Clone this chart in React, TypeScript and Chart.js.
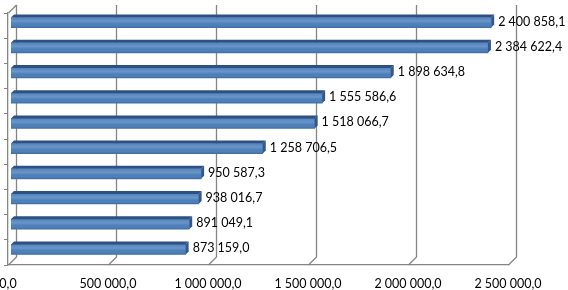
import React, { useEffect, useRef } from "react";
import { Chart, registerables } from "chart.js";

Chart.register(...registerables);

const categories = ["1", "2", "3", "4", "5", "6", "7", "8", "9", "10"];
const values = [
  2400858.1, 2384622.4, 1898634.8, 1555586.6, 1518066.7, 1258706.5, 950587.3,
  938016.7, 891049.1, 873159.0,
];
const xTicks = [0, 500000, 1000000, 1500000, 2000000, 2500000];

const FONT = "Lato, 'Open Sans', sans-serif";
const WALL = 8; // back wall offset
const SHIFT = 3; // bar offset into depth
const BD = 3; // bar depth
const GRID = "#858585";

function fmt(v: number): string {
  const [i, d] = v.toFixed(1).split(".");
  return i.replace(/\B(?=(\d{3})+(?!\d))/g, " ") + "," + d;
}

const threeD = {
  id: "threeD",
  beforeDatasetsDraw(chart: any) {
    const { ctx, chartArea, scales } = chart;
    const { left, top, bottom } = chartArea;
    const x = scales.x;
    ctx.save();
    ctx.strokeStyle = GRID;
    ctx.lineWidth = 1.3;
    ctx.beginPath();
    for (const t of xTicks) {
      const px = Math.round(x.getPixelForValue(t)) + 0.5;
      ctx.moveTo(px + WALL, top - WALL);
      ctx.lineTo(px + WALL, bottom - WALL);
      ctx.lineTo(px, bottom);
    }
    ctx.moveTo(left + 0.5, top);
    ctx.lineTo(left + 0.5 + WALL, top - WALL);
    ctx.stroke();
    ctx.restore();
    ctx.save();
    ctx.translate(SHIFT, -SHIFT);
  },
  afterDatasetsDraw(chart: any) {
    const { ctx } = chart;
    ctx.restore();
    const meta = chart.getDatasetMeta(0);
    ctx.save();
    meta.data.forEach((el: any, i: number) => {
      const p = el.getProps(["x", "y", "base", "height"], true);
      const x0 = p.base + SHIFT;
      const x1 = p.x + SHIFT;
      const y0 = p.y - p.height / 2 - SHIFT;
      const y1 = p.y + p.height / 2 - SHIFT;
      const g = ctx.createLinearGradient(0, y0, 0, y1);
      g.addColorStop(0, "rgba(255,255,255,0.05)");
      g.addColorStop(0.35, "rgba(255,255,255,0.18)");
      g.addColorStop(0.65, "rgba(255,255,255,0.0)");
      g.addColorStop(1, "rgba(0,0,0,0.18)");
      ctx.fillStyle = g;
      ctx.fillRect(x0, y0, x1 - x0, y1 - y0);
      ctx.fillStyle = "#2d5184";
      ctx.beginPath();
      ctx.moveTo(x0, y0);
      ctx.lineTo(x0 + BD, y0 - BD);
      ctx.lineTo(x1 + BD, y0 - BD);
      ctx.lineTo(x1, y0);
      ctx.closePath();
      ctx.fill();
      ctx.fillStyle = "#33578a";
      ctx.beginPath();
      ctx.moveTo(x1, y0);
      ctx.lineTo(x1 + BD, y0 - BD);
      ctx.lineTo(x1 + BD, y1 - BD);
      ctx.lineTo(x1, y1);
      ctx.closePath();
      ctx.fill();
      ctx.fillStyle = "#000";
      ctx.font = `12.5px ${FONT}`;
      ctx.textBaseline = "middle";
      ctx.textAlign = "left";
      ctx.fillText(fmt(values[i]), x1 + BD + 4, (y0 + y1) / 2 - 1);
    });
    ctx.restore();
  },
};

export default function App() {
  const ref = useRef<HTMLCanvasElement | null>(null);
  useEffect(() => {
    if (!ref.current) return;
    const chart = new Chart(ref.current, {
      type: "bar",
      data: {
        labels: categories,
        datasets: [
          {
            data: values,
            backgroundColor: "#4a7ebb",
            borderWidth: 0,
            barThickness: 10,
          },
        ],
      },
      options: {
        indexAxis: "y",
        responsive: false,
        animation: false,
        devicePixelRatio: 1,
        layout: { padding: { left: 0, top: 13, right: 60, bottom: 0 } },
        plugins: {
          legend: { display: false },
          tooltip: { enabled: false },
          title: { display: false },
        },
        scales: {
          x: {
            min: 0,
            max: 2500000,
            afterBuildTicks: (s: any) => {
              s.ticks = xTicks.map((v) => ({ value: v }));
            },
            afterFit: (s: any) => {
              s.height = 25;
              s.paddingLeft = 0;
              s.paddingRight = 0;
              s.paddingTop = 0;
              s.paddingBottom = 0;
            },
            grid: { display: false },
            border: { display: true, color: GRID, width: 1.3 },
            ticks: {
              padding: 3,
              color: "#000",
              font: { family: FONT, size: 12.5 },
              maxRotation: 0,
              autoSkip: false,
              callback: (v: any) => fmt(Number(v)),
            },
          },
          y: {
            afterFit: (s: any) => {
              s.width = 8;
              s.paddingTop = 0;
              s.paddingBottom = 0;
            },
            grid: {
              display: true,
              drawOnChartArea: false,
              drawTicks: true,
              tickLength: 4,
              color: GRID,
              offset: true,
            },
            border: { display: true, color: GRID, width: 1.3 },
            ticks: { display: false },
          },
        },
      },
      plugins: [threeD],
    } as any);
    return () => chart.destroy();
  }, []);
  return (
    <div style={{ position: "absolute", left: 0, top: 0, width: 568, height: 290 }}>
      <canvas ref={ref} width={568} height={290} />
    </div>
  );
}
